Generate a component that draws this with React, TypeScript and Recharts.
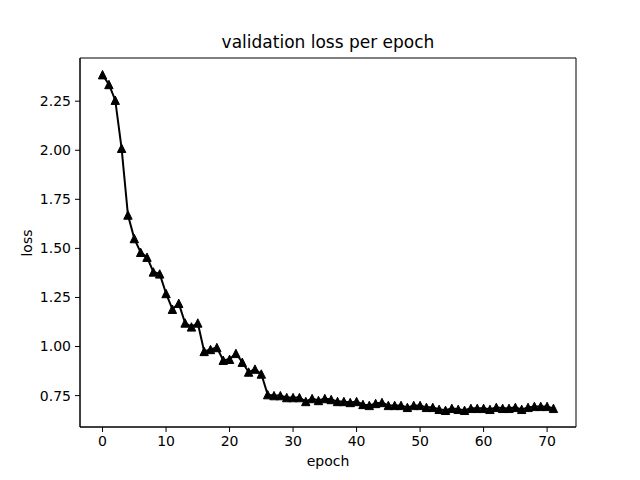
import { LineChart, Line, XAxis, YAxis, ReferenceArea } from 'recharts'

// validation loss, one value per epoch (0..71)
const epochs = Array.from({ length: 72 }, (_, i) => i)
const lossValues = [
  2.385, 2.335, 2.255, 2.01, 1.67, 1.55, 1.48, 1.455, 1.38, 1.37,
  1.27, 1.19, 1.22, 1.12, 1.1, 1.12, 0.975, 0.985, 0.995, 0.93,
  0.935, 0.965, 0.92, 0.87, 0.885, 0.86, 0.755, 0.75, 0.75, 0.74,
  0.74, 0.74, 0.72, 0.735, 0.725, 0.735, 0.73, 0.72, 0.72, 0.715,
  0.72, 0.705, 0.7, 0.71, 0.715, 0.7, 0.7, 0.7, 0.69, 0.7,
  0.7, 0.69, 0.69, 0.68, 0.675, 0.685, 0.68, 0.675, 0.685, 0.685,
  0.685, 0.68, 0.69, 0.685, 0.685, 0.69, 0.68, 0.69, 0.695, 0.695,
  0.695, 0.685,
]
const xTicks = [0, 10, 20, 30, 40, 50, 60, 70]
const yTicks = [0.75, 1.0, 1.25, 1.5, 1.75, 2.0, 2.25]
const xDomain: [number, number] = [-3.55, 74.55]
const yDomain: [number, number] = [0.59, 2.47]

const data = epochs.map((e, i) => ({ epoch: e, loss: lossValues[i] }))

const font = 'DejaVu Sans, sans-serif'
const tickStyle = { fontSize: 14, fill: '#000', fontFamily: font }

const Triangle = (props: any) => {
  const { cx, cy, index } = props
  const s = 4.2
  return (
    <polygon
      key={`tri-${index}`}
      points={`${cx},${cy - s} ${cx - s},${cy + s} ${cx + s},${cy + s}`}
      fill="#000"
      stroke="#000"
      strokeWidth={1}
    />
  )
}

const App = () => {
  return (
    <div style={{ position: 'absolute', left: 0, top: 0, width: 640, height: 480, background: '#fff', fontFamily: font }}>
      <div style={{ position: 'absolute', left: 80, width: 496, top: 32, textAlign: 'center', fontSize: 17, color: '#000' }}>
        validation loss per epoch
      </div>
      <div style={{ position: 'absolute', left: 80, width: 496, top: 453, textAlign: 'center', fontSize: 14, color: '#000' }}>
        epoch
      </div>
      <div
        style={{
          position: 'absolute', left: 27, top: 243, fontSize: 14, color: '#000',
          transform: 'translate(-50%, -50%) rotate(-90deg)', whiteSpace: 'nowrap',
        }}
      >
        loss
      </div>
      <LineChart width={640} height={480} data={data} margin={{ top: 58, right: 64, left: 0, bottom: 0 }}>
        <XAxis
          dataKey="epoch"
          type="number"
          domain={xDomain}
          ticks={xTicks}
          height={53}
          tick={tickStyle}
          tickSize={5}
          tickMargin={4}
          stroke="#000"
          allowDataOverflow
        />
        <YAxis
          type="number"
          domain={yDomain}
          ticks={yTicks}
          width={80}
          tick={tickStyle}
          tickSize={5}
          tickMargin={4}
          tickFormatter={(v: number) => v.toFixed(2)}
          stroke="#000"
          allowDataOverflow
        />
        {/* axes frame */}
        <ReferenceArea
          x1={xDomain[0]}
          x2={xDomain[1]}
          y1={yDomain[0]}
          y2={yDomain[1]}
          fill="none"
          fillOpacity={0}
          stroke="#000"
          strokeWidth={1}
          ifOverflow="visible"
        />
        <Line
          type="linear"
          dataKey="loss"
          stroke="#000"
          strokeWidth={2}
          dot={Triangle}
          activeDot={false}
          isAnimationActive={false}
        />
      </LineChart>
    </div>
  )
}

export default App
